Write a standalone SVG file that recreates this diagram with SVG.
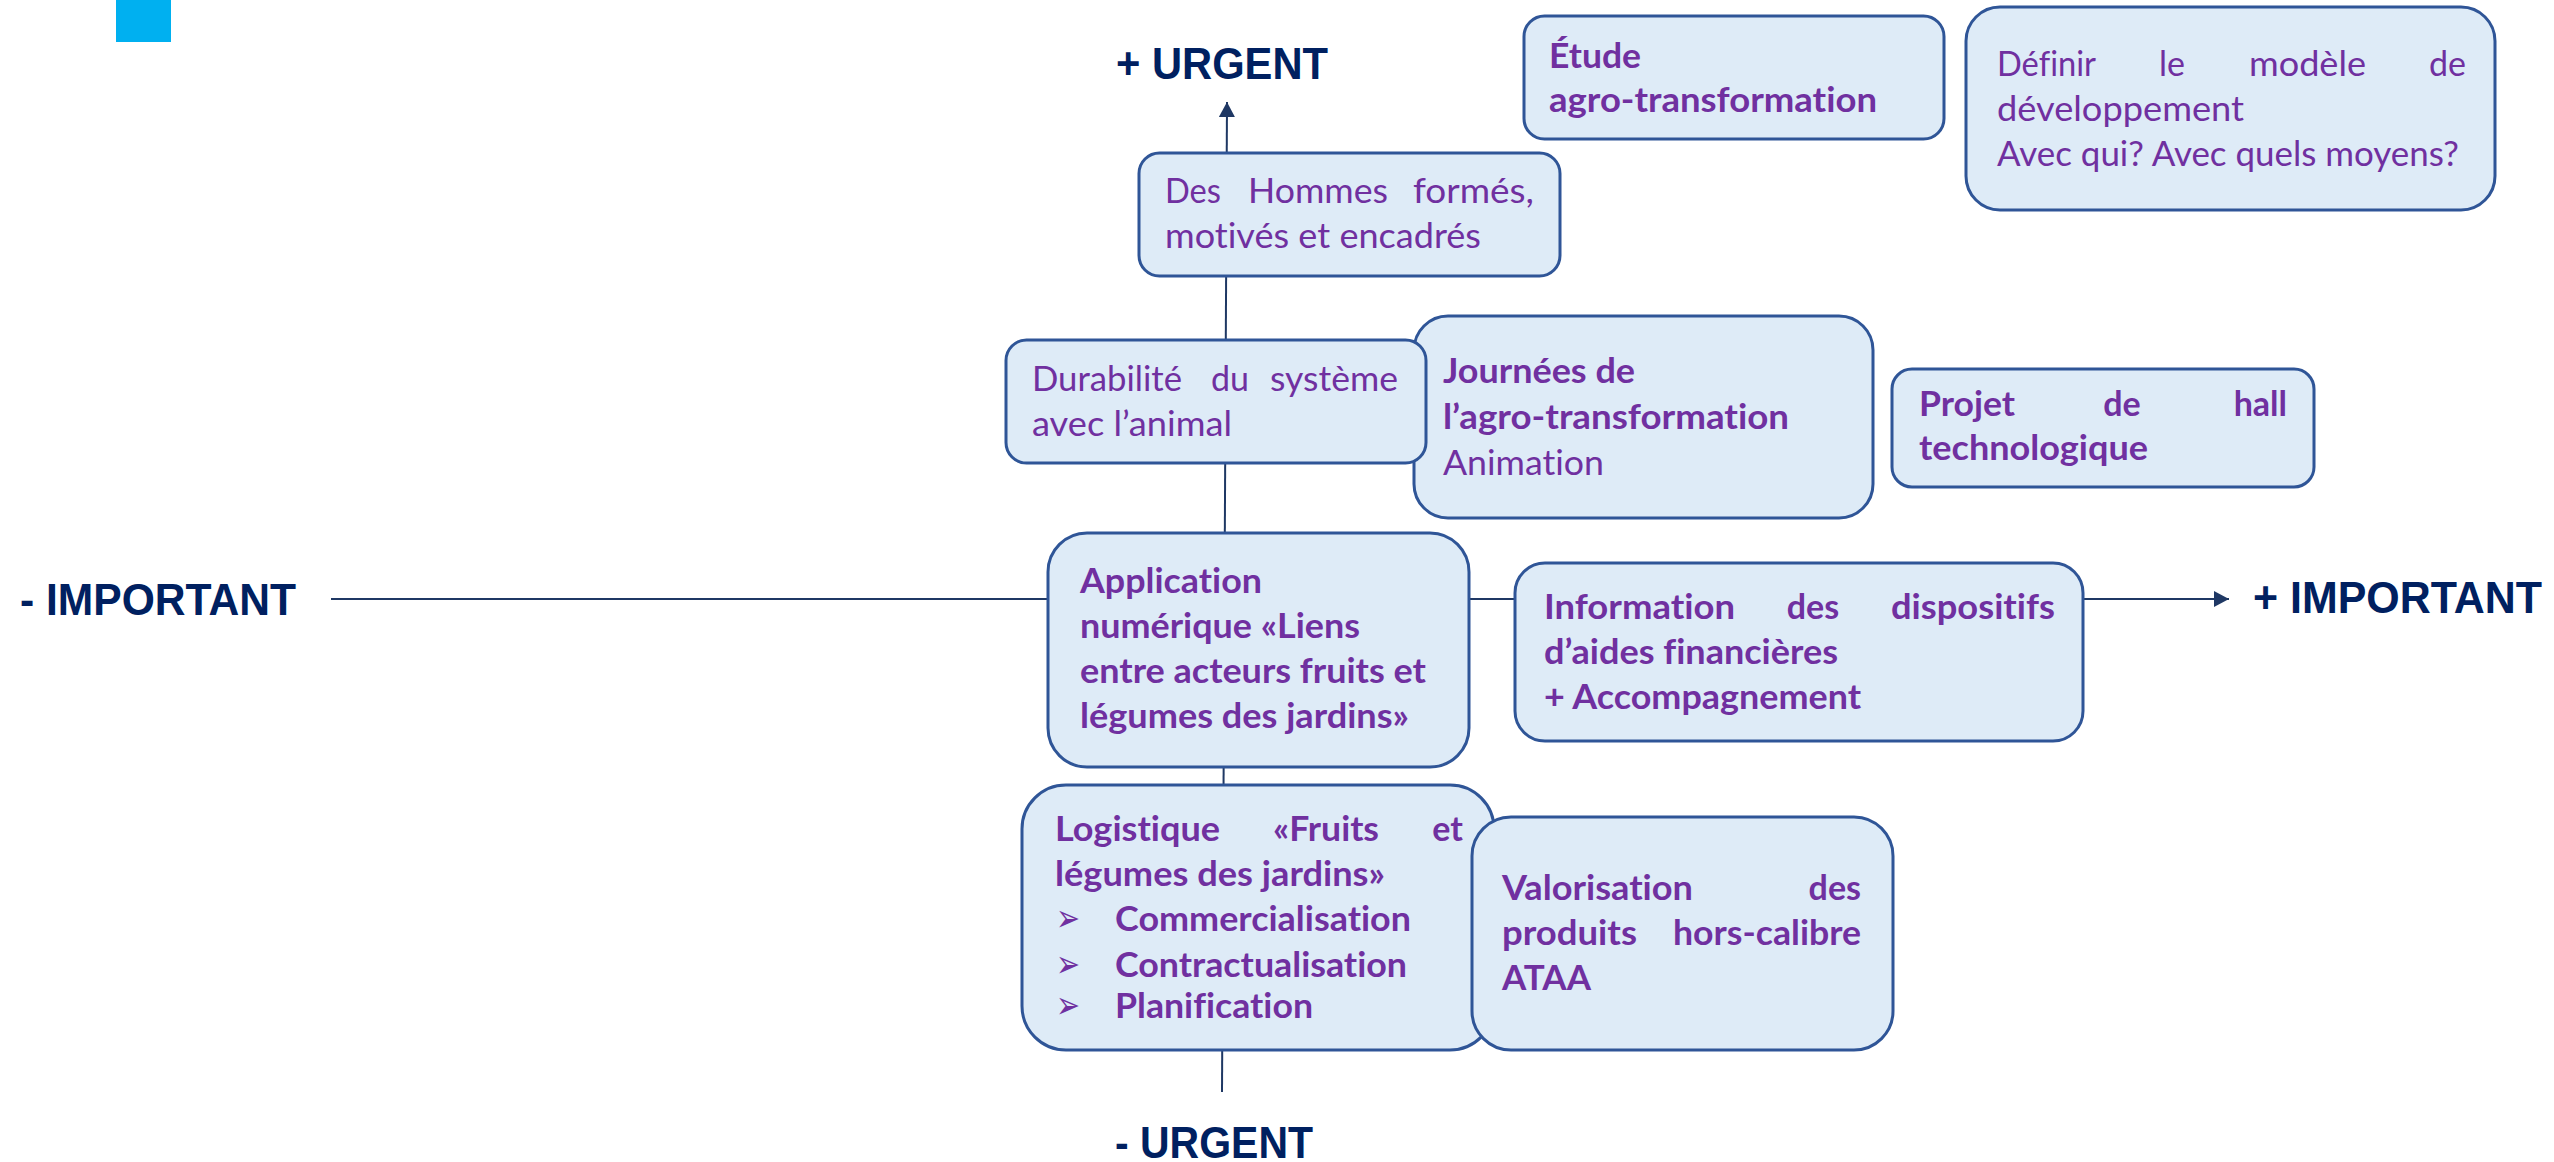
<svg xmlns="http://www.w3.org/2000/svg" width="2554" height="1162" viewBox="0 0 2554 1162">
<style>
.box{fill:#DEEBF7;stroke:#2F5597;stroke-width:3}
.t{font-family:Lato,"Open Sans","Liberation Sans",sans-serif;font-size:34px;fill:#7030A0;font-variant-ligatures:none;font-feature-settings:"liga" 0,"clig" 0,"dlig" 0}
.b{font-weight:700}
.ax{font-family:"Liberation Sans",Arial,sans-serif;font-weight:700;font-size:44px;fill:#002060}
.axis{stroke:#1F3864;stroke-width:2;fill:none}
.bul{font-family:"DejaVu Sans",sans-serif;font-size:38px;fill:#7030A0}
</style>
<defs>
<marker id="arr" viewBox="0 0 15 16" refX="15" refY="8" markerWidth="15" markerHeight="16" markerUnits="userSpaceOnUse" orient="auto">
<path d="M0,0 L15,8 L0,16 z" fill="#1F3864"/>
</marker>
</defs>
<rect x="116" y="0" width="55" height="42" fill="#00B0F0"/>
<g id="connectors">
<line class="axis" x1="1222" y1="1092" x2="1227" y2="102" marker-end="url(#arr)"/>
<line class="axis" x1="331" y1="599" x2="2229" y2="599" marker-end="url(#arr)"/>
</g>
<g id="labels">
<text class="ax" x="1116" y="79" textLength="212" lengthAdjust="spacingAndGlyphs">+ URGENT</text>
<text class="ax" x="1115" y="1158" textLength="198" lengthAdjust="spacingAndGlyphs">- URGENT</text>
<text class="ax" x="20" y="615" textLength="276" lengthAdjust="spacingAndGlyphs">- IMPORTANT</text>
<text class="ax" x="2253" y="613" textLength="289" lengthAdjust="spacingAndGlyphs">+ IMPORTANT</text>
</g>
<g id="hommes">
<rect class="box" x="1139" y="153" width="421" height="123" rx="20.5"/>
<text class="t" x="1165" y="203" textLength="56" lengthAdjust="spacingAndGlyphs">Des</text>
<text class="t" x="1248" y="203" textLength="140" lengthAdjust="spacingAndGlyphs">Hommes</text>
<text class="t" x="1413" y="203" textLength="121" lengthAdjust="spacingAndGlyphs">formés,</text>
<text class="t" x="1165" y="248" textLength="316" lengthAdjust="spacingAndGlyphs">motivés et encadrés</text>
</g>
<g id="etude">
<rect class="box" x="1524" y="16" width="420" height="123" rx="20.5"/>
<text class="t b" x="1549" y="68" textLength="92" lengthAdjust="spacingAndGlyphs">Étude</text>
<text class="t b" x="1549" y="112" textLength="328" lengthAdjust="spacingAndGlyphs">agro-transformation</text>
</g>
<g id="definir">
<rect class="box" x="1966" y="7" width="529" height="203" rx="34"/>
<text class="t" x="1997" y="76" textLength="99" lengthAdjust="spacingAndGlyphs">Définir</text>
<text class="t" x="2159" y="76">le</text>
<text class="t" x="2249" y="76" textLength="117" lengthAdjust="spacingAndGlyphs">modèle</text>
<text class="t" x="2466" y="76" text-anchor="end">de</text>
<text class="t" x="1997" y="121" textLength="247" lengthAdjust="spacingAndGlyphs">développement</text>
<text class="t" x="1997" y="166" textLength="462" lengthAdjust="spacingAndGlyphs">Avec qui? Avec quels moyens?</text>
</g>
<g id="journees">
<rect class="box" x="1414" y="316" width="459" height="202" rx="34"/>
<text class="t b" x="1443" y="383" textLength="192" lengthAdjust="spacingAndGlyphs">Journées de</text>
<text class="t b" x="1443" y="429" textLength="346" lengthAdjust="spacingAndGlyphs">l’agro-transformation</text>
<text class="t" x="1443" y="475" textLength="161" lengthAdjust="spacingAndGlyphs">Animation</text>
</g>
<g id="durabilite">
<rect class="box" x="1006" y="340" width="420" height="123" rx="20.5"/>
<text class="t" x="1032" y="391" textLength="150" lengthAdjust="spacingAndGlyphs">Durabilité</text>
<text class="t" x="1230" y="391" text-anchor="middle">du</text>
<text class="t" x="1270" y="391" textLength="128" lengthAdjust="spacingAndGlyphs">système</text>
<text class="t" x="1032" y="436" textLength="200" lengthAdjust="spacingAndGlyphs">avec l’animal</text>
</g>
<g id="projet">
<rect class="box" x="1892" y="369" width="422" height="118" rx="20"/>
<text class="t b" x="1919" y="416" textLength="96" lengthAdjust="spacingAndGlyphs">Projet</text>
<text class="t b" x="2122" y="416" text-anchor="middle">de</text>
<text class="t b" x="2287" y="416" text-anchor="end">hall</text>
<text class="t b" x="1919" y="460" textLength="229" lengthAdjust="spacingAndGlyphs">technologique</text>
</g>
<g id="application">
<rect class="box" x="1048" y="533" width="421" height="234" rx="39"/>
<text class="t b" x="1080" y="593" textLength="182" lengthAdjust="spacingAndGlyphs">Application</text>
<text class="t b" x="1080" y="638" textLength="280" lengthAdjust="spacingAndGlyphs">numérique «Liens</text>
<text class="t b" x="1080" y="683" textLength="346" lengthAdjust="spacingAndGlyphs">entre acteurs fruits et</text>
<text class="t b" x="1080" y="728" textLength="329" lengthAdjust="spacingAndGlyphs">légumes des jardins»</text>
</g>
<g id="information">
<rect class="box" x="1515" y="563" width="568" height="178" rx="30"/>
<text class="t b" x="1544" y="619" textLength="191" lengthAdjust="spacingAndGlyphs">Information</text>
<text class="t b" x="1813" y="619" text-anchor="middle">des</text>
<text class="t b" x="1891" y="619" textLength="164" lengthAdjust="spacingAndGlyphs">dispositifs</text>
<text class="t b" x="1544" y="664" textLength="294" lengthAdjust="spacingAndGlyphs">d’aides financières</text>
<text class="t b" x="1544" y="709" textLength="317" lengthAdjust="spacingAndGlyphs">+ Accompagnement</text>
</g>
<g id="logistique">
<rect class="box" x="1022" y="785" width="472" height="265" rx="44"/>
<text class="t b" x="1055" y="841" textLength="165" lengthAdjust="spacingAndGlyphs">Logistique</text>
<text class="t b" x="1273" y="841" textLength="106" lengthAdjust="spacingAndGlyphs">«Fruits</text>
<text class="t b" x="1463" y="841" text-anchor="end">et</text>
<text class="t b" x="1055" y="886" textLength="330" lengthAdjust="spacingAndGlyphs">légumes des jardins»</text>
<text class="bul" x="1056" y="931" textLength="24" lengthAdjust="spacingAndGlyphs">➢</text>
<text class="t b" x="1115" y="931" textLength="296" lengthAdjust="spacingAndGlyphs">Commercialisation</text>
<text class="bul" x="1056" y="977" textLength="24" lengthAdjust="spacingAndGlyphs">➢</text>
<text class="t b" x="1115" y="977" textLength="292" lengthAdjust="spacingAndGlyphs">Contractualisation</text>
<text class="bul" x="1056" y="1018" textLength="24" lengthAdjust="spacingAndGlyphs">➢</text>
<text class="t b" x="1115" y="1018" textLength="198" lengthAdjust="spacingAndGlyphs">Planification</text>
</g>
<g id="valorisation">
<rect class="box" x="1472" y="817" width="421" height="233" rx="39"/>
<text class="t b" x="1502" y="900" textLength="191" lengthAdjust="spacingAndGlyphs">Valorisation</text>
<text class="t b" x="1861" y="900" text-anchor="end">des</text>
<text class="t b" x="1502" y="945" textLength="135" lengthAdjust="spacingAndGlyphs">produits</text>
<text class="t b" x="1673" y="945" textLength="188" lengthAdjust="spacingAndGlyphs">hors-calibre</text>
<text class="t b" x="1502" y="990" textLength="89" lengthAdjust="spacingAndGlyphs">ATAA</text>
</g>
</svg>
